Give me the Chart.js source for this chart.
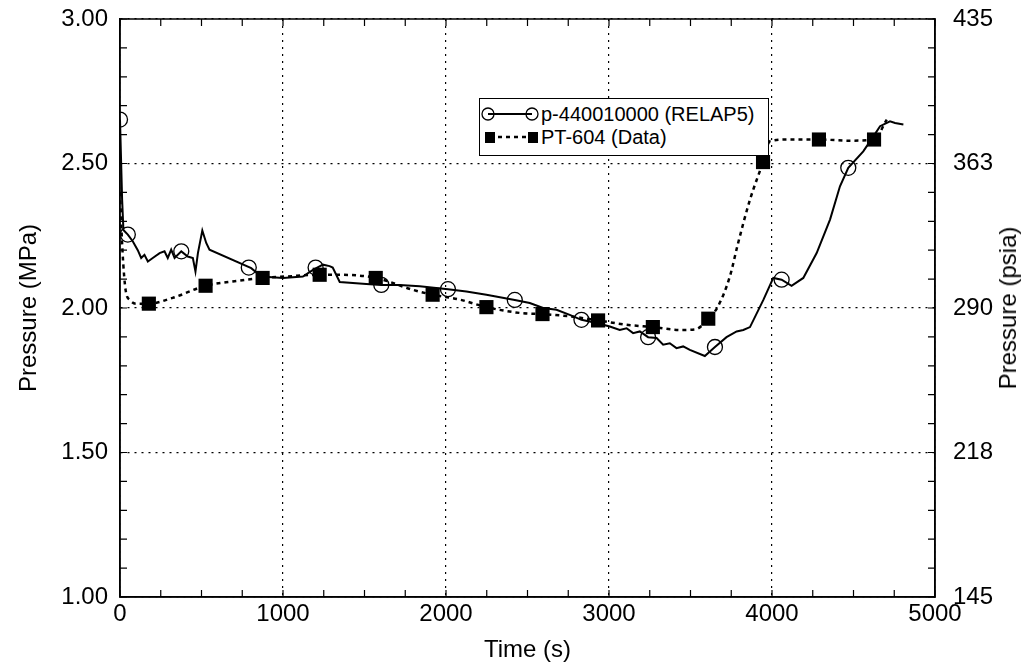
<!DOCTYPE html>
<html>
<head>
<meta charset="utf-8">
<script src="https://cdn.jsdelivr.net/npm/chart.js@4.4.1/dist/chart.umd.min.js"></script>
<style>
  html, body { margin: 0; padding: 0; background: #fff; }
  #wrap { position: relative; width: 1029px; height: 671px; font-family: "Liberation Sans", Arial, sans-serif; color: #000; }
  #legend { position: absolute; left: 479px; top: 98px; width: 288px; height: 56px; border: 1px solid #000; background: #fff; font-size: 20px; }
  #legend .row { position: absolute; left: 0; height: 24px; line-height: 24px; white-space: nowrap; }
  #legend svg { position: absolute; left: 0; top: 0; }
  #legend span { position: absolute; left: 61px; top: 0; }
  #rightTitle { position: absolute; left: 1008px; top: 308px; font-size: 24px; white-space: nowrap; transform: translate(-50%, -50%) rotate(-90deg); }
</style>
</head>
<body>
<div id="wrap">
  <canvas id="chart" width="1029" height="671"></canvas>
  <div id="legend">
    <div class="row" style="top:3px">
      <svg width="60" height="24"><line x1="8" y1="12" x2="52" y2="12" stroke="#000" stroke-width="2"/><circle cx="8" cy="12" r="6" fill="none" stroke="#000" stroke-width="1.3"/><circle cx="52" cy="12" r="6" fill="none" stroke="#000" stroke-width="1.3"/></svg>
      <span id="lg0"></span>
    </div>
    <div class="row" style="top:26px">
      <svg width="60" height="24"><line x1="10" y1="12" x2="50" y2="12" stroke="#000" stroke-width="2.5" stroke-dasharray="4,4"/><rect x="5" y="7" width="10" height="11" fill="#000"/><rect x="48" y="7" width="10" height="11" fill="#000"/></svg>
      <span id="lg1"></span>
    </div>
  </div>
  <div id="rightTitle">Pressure (psia)</div>
</div>
<script>
// Noms des séries
const seriesNames = ['p-440010000 (RELAP5)', 'PT-604 (Data)'];

// Courbe RELAP5 (temps en s, pression en MPa)
const relapTime = [0, 13, 21, 48, 79, 109, 130, 150, 171, 201, 243, 273, 293, 314, 335, 376, 416, 447, 463, 478, 505, 529, 549,
  805, 867, 1000, 1122, 1184, 1245, 1286, 1305, 1348, 1511, 1603, 1716, 1839, 2012, 2125, 2248, 2422, 2514, 2596, 2678, 2759,
  2831, 2923, 3005, 3066, 3108, 3148, 3189, 3240, 3292, 3332, 3373, 3414, 3455, 3496, 3588, 3650, 3721, 3783, 3824, 3865, 3947,
  4008, 4059, 4120, 4192, 4274, 4356, 4417, 4468, 4560, 4622, 4663, 4724, 4755, 4806];
const relapP = [2.652, 2.375, 2.27, 2.254, 2.23, 2.20, 2.173, 2.184, 2.161, 2.173, 2.19, 2.196, 2.173, 2.202, 2.173, 2.196, 2.178, 2.173, 2.126, 2.19, 2.268, 2.225, 2.202,
  2.138, 2.109, 2.104, 2.109, 2.132, 2.15, 2.145, 2.14, 2.09, 2.083, 2.08, 2.08, 2.075, 2.065, 2.057, 2.046, 2.028, 2.017, 2.0, 1.994, 1.976,
  1.959, 1.948, 1.936, 1.924, 1.930, 1.913, 1.919, 1.899, 1.896, 1.873, 1.878, 1.861, 1.867, 1.855, 1.834, 1.865, 1.899, 1.919, 1.924, 1.934, 2.028,
  2.104, 2.098, 2.077, 2.104, 2.19, 2.306, 2.421, 2.485, 2.542, 2.594, 2.629, 2.646, 2.64, 2.635];

// Symboles (cercles) de la courbe RELAP5
const relapMarkTime = [0, 48, 376, 790, 1200, 1603, 2012, 2422, 2831, 3240, 3650, 4059, 4468];
const relapMarkP = [2.652, 2.254, 2.196, 2.14, 2.14, 2.08, 2.065, 2.028, 1.959, 1.899, 1.865, 2.098, 2.485];

// Mesures PT-604
const dataTime = [0, 15, 35, 60, 100, 177, 323, 525, 691, 875, 1020, 1225, 1348, 1569, 1796, 1918, 2084, 2248, 2452, 2592, 2759,
  2933, 3108, 3269, 3435, 3530, 3609, 3668, 3742, 3790, 3865, 3945, 3987, 4110, 4288, 4478, 4626, 4704];
const dataP = [2.40, 2.20, 2.06, 2.028, 2.015, 2.015, 2.035, 2.077, 2.092, 2.104, 2.109, 2.115, 2.115, 2.104, 2.063, 2.046, 2.029, 2.003, 1.983, 1.979, 1.971,
  1.957, 1.942, 1.934, 1.924, 1.926, 1.963, 2.005, 2.11, 2.22, 2.375, 2.505, 2.577, 2.583, 2.583, 2.579, 2.583, 2.652];

// Symboles (carrés) des mesures
const dataMarkTime = [177, 525, 875, 1225, 1569, 1918, 2248, 2592, 2933, 3269, 3609, 3945, 4288, 4626];
const dataMarkP = [2.015, 2.077, 2.104, 2.115, 2.104, 2.046, 2.003, 1.979, 1.957, 1.934, 1.963, 2.505, 2.583, 2.583];

// Étiquettes de l'axe de droite (psia)
const psiaLabels = ['145', '218', '290', '363', '435'];

const toPoints = (xs, ys) => xs.map((x, i) => ({ x: x, y: ys[i] }));

document.getElementById('lg0').textContent = seriesNames[0];
document.getElementById('lg1').textContent = seriesNames[1];

// Cadre + petites graduations intérieures
const frameTicks = {
  id: 'frameTicks',
  afterDraw(chart) {
    const { ctx, chartArea: a, scales } = chart;
    const x = scales.x, y = scales.y;
    ctx.save();
    ctx.strokeStyle = '#000';
    ctx.lineWidth = 1.2;
    ctx.beginPath();
    for (let v = 0; v <= 5000; v += 250) {
      const px = x.getPixelForValue(v);
      ctx.moveTo(px, a.bottom); ctx.lineTo(px, a.bottom - 7);
      ctx.moveTo(px, a.top); ctx.lineTo(px, a.top + 7);
    }
    for (let i = 0; i <= 20; i++) {
      const py = y.getPixelForValue(1 + i * 0.1);
      ctx.moveTo(a.left, py); ctx.lineTo(a.left + 7, py);
      ctx.moveTo(a.right, py); ctx.lineTo(a.right - 7, py);
    }
    ctx.stroke();
    ctx.lineWidth = 1.5;
    ctx.strokeRect(a.left, a.top, a.right - a.left, a.bottom - a.top);
    ctx.restore();
  }
};

// Largeur fixe des axes verticaux, sans marge pour les étiquettes extrêmes
const fitVertical = w => s => { s.width = w; s.paddingTop = 0; s.paddingBottom = 0; };

Chart.defaults.font.family = '"Liberation Sans", Arial, sans-serif';
Chart.defaults.font.size = 24;
Chart.defaults.color = '#000';

const gridOpts = { color: '#000', lineWidth: 1.2, drawTicks: false };
const borderOpts = { color: '#000', width: 1.5, dash: [2, 5] };

new Chart(document.getElementById('chart'), {
  type: 'scatter',
  data: {
    datasets: [
      {
        label: seriesNames[0],
        data: toPoints(relapTime, relapP),
        showLine: true,
        borderColor: '#000',
        borderWidth: 2,
        pointRadius: 0,
        tension: 0
      },
      {
        label: seriesNames[1],
        data: toPoints(dataTime, dataP),
        showLine: true,
        borderColor: '#000',
        borderWidth: 2.5,
        borderDash: [4, 4],
        pointRadius: 0,
        cubicInterpolationMode: 'monotone'
      },
      {
        label: 'relap markers',
        data: toPoints(relapMarkTime, relapMarkP),
        showLine: false,
        pointStyle: 'circle',
        pointRadius: 7.5,
        pointBorderWidth: 1.3,
        pointBorderColor: '#000',
        pointBackgroundColor: 'rgba(0,0,0,0)'
      },
      {
        label: 'data markers',
        data: toPoints(dataMarkTime, dataMarkP),
        showLine: false,
        pointStyle: 'rect',
        pointRadius: 10,
        pointBorderWidth: 0,
        pointBackgroundColor: '#000'
      }
    ]
  },
  options: {
    responsive: false,
    animation: false,
    layout: { padding: { top: 19, left: 0, right: 0, bottom: 0 } },
    plugins: { legend: { display: false }, tooltip: { enabled: false } },
    scales: {
      x: {
        type: 'linear', min: 0, max: 5000,
        ticks: { stepSize: 1000, padding: 3, callback: v => String(v) },
        grid: gridOpts, border: borderOpts,
        title: { display: true, text: 'Time (s)', padding: { top: 0, bottom: 6 } },
        afterFit: s => { s.height = 74; s.paddingLeft = 0; s.paddingRight = 0; }
      },
      y: {
        type: 'linear', position: 'left', min: 1, max: 3,
        ticks: { stepSize: 0.5, padding: 12, callback: v => v.toFixed(2) },
        grid: gridOpts, border: borderOpts,
        title: { display: true, text: 'Pressure (MPa)', padding: { top: 15, bottom: 0 } },
        afterFit: fitVertical(120)
      },
      y2: {
        type: 'linear', position: 'right', min: 1, max: 3,
        ticks: { stepSize: 0.5, padding: 18, callback: (v, i) => psiaLabels[i] },
        grid: { display: false, drawTicks: false }, border: { color: '#000', width: 1.5 },
        afterFit: fitVertical(94)
      }
    }
  },
  plugins: [frameTicks]
});
</script>
</body>
</html>
